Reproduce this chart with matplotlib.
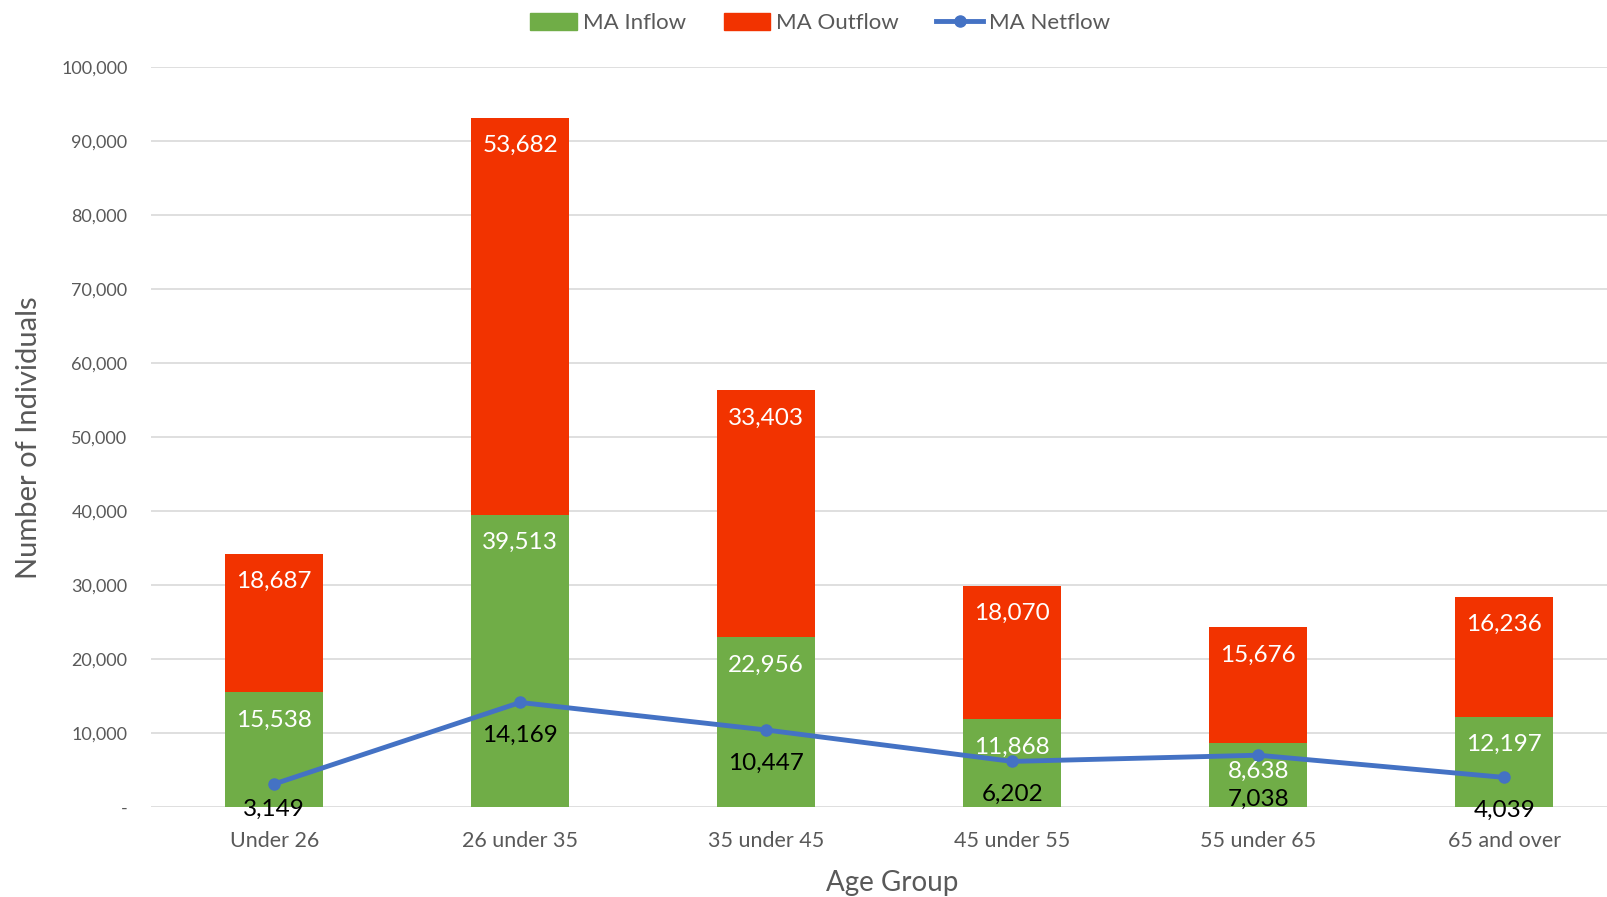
import matplotlib
import numpy as np
import matplotlib.lines as mlines
import matplotlib.patches as mpatches
from matplotlib.ticker import FuncFormatter

matplotlib.use('Agg')
from matplotlib import pyplot as plt

plt.rcParams['font.family'] = ['Lato', 'DejaVu Sans']

age_groups = ['Under 26', '26 under 35', '35 under 45', '45 under 55', '55 under 65', '65 and over']
inflow = [15538, 39513, 22956, 11868, 8638, 12197]
outflow = [18687, 53682, 33403, 18070, 15676, 16236]
netflow = [3149, 14169, 10447, 6202, 7038, 4039]

GREEN = '#70AD47'
RED = '#F23300'
BLUE = '#4472C4'
GRAY = '#595959'

# how far (points) each netflow label sits below its marker
net_label_drop = [18, 24, 24, 24, 32, 24]

fig = plt.figure(figsize=(16.08, 8.97), dpi=100)
ax = fig.add_axes([0.094, 0.100, 0.918, 0.825])

x = np.arange(len(age_groups))
width = 0.4
ax.bar(x, inflow, width, color=GREEN, zorder=2)
ax.bar(x, outflow, width, bottom=inflow, color=RED, zorder=2)
ax.plot(x, netflow, color=BLUE, lw=3.5, marker='o', ms=8, zorder=3)

# value labels: white just inside the top of each segment, black under the line points
for i in x:
    top = inflow[i] + outflow[i]
    ax.annotate(f'{outflow[i]:,}', (i, top), xytext=(0, -20), textcoords='offset points',
                ha='center', va='center', color='white', fontsize=17.5, zorder=4)
    ax.annotate(f'{inflow[i]:,}', (i, inflow[i]), xytext=(0, -20), textcoords='offset points',
                ha='center', va='center', color='white', fontsize=17.5, zorder=4)
    ax.annotate(f'{netflow[i]:,}', (i, netflow[i]), xytext=(0, -net_label_drop[i]),
                textcoords='offset points', ha='center', va='center', color='black',
                fontsize=17.5, zorder=4)

ax.set_xlim(-0.5, len(age_groups) - 0.5)
ax.set_ylim(0, 100000)
ax.set_yticks(np.arange(0, 100001, 10000))
ax.yaxis.set_major_formatter(FuncFormatter(lambda v, p: '-' if v == 0 else f'{int(v):,}'))
ax.set_xticks(x)
ax.set_xticklabels(age_groups)
ax.tick_params(axis='both', length=0, colors=GRAY)
ax.tick_params(axis='x', labelsize=15.5, pad=17)
ax.tick_params(axis='y', labelsize=13, pad=17)
ax.grid(axis='y', color='#D9D9D9', lw=1.2, zorder=0)
for s in ax.spines.values():
    s.set_visible(False)

ax.set_xlabel('Age Group', fontsize=20, color=GRAY, labelpad=12)
ax.xaxis.set_label_coords(0.5, -0.085)
ax.xaxis.label.set_x((0.555 - 0.094) / 0.918)
ax.set_ylabel('Number of Individuals', fontsize=21, color=GRAY, labelpad=14)

handles = [
    mpatches.Patch(color=GREEN, label='MA Inflow'),
    mpatches.Patch(color=RED, label='MA Outflow'),
    mlines.Line2D([], [], color=BLUE, lw=3.5, marker='o', ms=8, label='MA Netflow'),
]
fig.legend(handles=handles, loc='upper center', bbox_to_anchor=(0.51, 1.008), ncol=3,
           frameon=False, fontsize=16, labelcolor=GRAY, handlelength=2.1, handleheight=0.8,
           handletextpad=0.25, columnspacing=1.7)

fig.savefig('out.png', dpi=100)
